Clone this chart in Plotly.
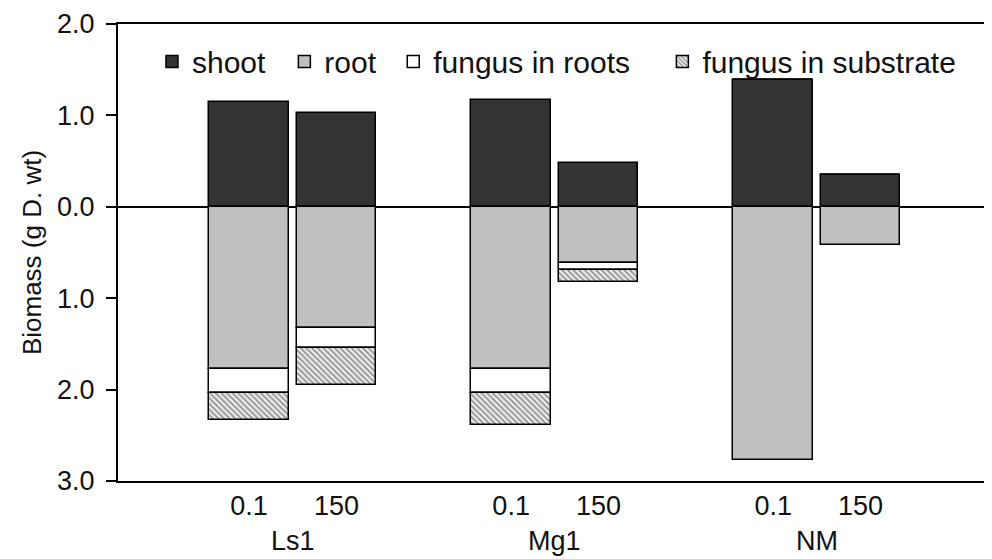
import plotly.graph_objects as go

groups = ["Ls1", "Mg1", "NM"]
levels = ["0.1", "150"]
shoot = [1.15, 1.03, 1.17, 0.48, 1.39, 0.35]
root = [1.77, 1.33, 1.77, 0.62, 2.77, 0.42]
fungus_roots = [0.27, 0.22, 0.27, 0.07, 0.0, 0.0]
fungus_substrate = [0.29, 0.40, 0.35, 0.13, 0.0, 0.0]
y_ticks = [2, 1, 0, -1, -2, -3]
y_ticktext = ["2.0", "1.0", "0.0", "1.0", "2.0", "3.0"]

# numeric positions: two bars per group, gap between groups
xpos = []
xtext = []
for g in range(len(groups)):
    for i, lv in enumerate(levels):
        xpos.append(3 * g + i)
        xtext.append(lv)

FONT = "Liberation Sans, Arial, sans-serif"
line = dict(color="black", width=1.5)

fig = go.Figure()
fig.add_trace(go.Bar(x=xpos, y=shoot, name="shoot", legend="legend",
                     marker=dict(color="#333333", line=line)))
fig.add_trace(go.Bar(x=xpos, y=[-v for v in root], name="root", legend="legend2",
                     marker=dict(color="#c0c0c0", line=line)))
fig.add_trace(go.Bar(x=xpos, y=[-v for v in fungus_roots], name="fungus in roots",
                     legend="legend3", marker=dict(color="white", line=line)))
fig.add_trace(go.Bar(x=xpos, y=[-v for v in fungus_substrate], name="fungus in substrate",
                     legend="legend4",
                     marker=dict(color="white", line=line,
                                 pattern=dict(shape="\\", size=4, solidity=0.45,
                                              fgcolor="#333333", bgcolor="#eeeeee"))))

fig.update_traces(width=0.91)

annotations = []
for g, name in enumerate(groups):
    annotations.append(dict(x=3 * g + 0.5, y=-0.131, xref="x", yref="paper",
                            text=name, showarrow=False, yanchor="middle",
                            font=dict(size=27, color="#111111", family=FONT)))

def leg(x):
    return dict(orientation="h", x=x, y=0.975, xanchor="left", yanchor="top",
                font=dict(size=30, family=FONT, color="#111111"),
                bgcolor="rgba(0,0,0,0)", itemwidth=30)

fig.update_layout(
    barmode="relative",
    width=984, height=551,
    margin=dict(l=110, r=1, t=14, b=78),
    paper_bgcolor="white", plot_bgcolor="white",
    font=dict(family=FONT, size=27, color="#111111"),
    showlegend=True,
    legend=leg(0.039),
    legend2=leg(0.191),
    legend3=leg(0.316),
    legend4=leg(0.625),
    xaxis=dict(range=[-1.5, 8.47], tickvals=xpos, ticktext=xtext,
               showline=True, linecolor="black", linewidth=2, mirror=True,
               ticks="", showgrid=False, zeroline=False,
               tickfont=dict(size=27, family=FONT)),
    yaxis=dict(range=[-3, 2], tickvals=y_ticks, ticktext=y_ticktext,
               showline=True, linecolor="black", linewidth=2, mirror=True,
               ticks="outside", ticklen=10, tickwidth=2, tickcolor="black",
               ticklabelstandoff=6, ticklabeloverflow="allow",
               showgrid=False, zeroline=True, zerolinecolor="black", zerolinewidth=1.5,
               tickfont=dict(size=27, family=FONT),
               title=dict(text="Biomass (g D. wt)", font=dict(size=26, family=FONT),
                          standoff=8)),
    annotations=annotations,
    bargap=0.0,
)

fig.write_html("out.html")
